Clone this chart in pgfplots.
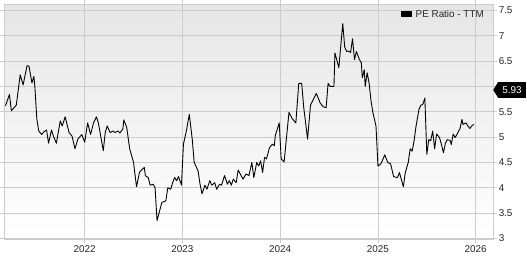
\documentclass[border=0pt]{standalone}
\usepackage{pgfplots}
\pgfplotsset{compat=1.18}
\usepackage{fontspec}
\setmainfont{Liberation Sans}
\definecolor{gridc}{RGB}{204,204,204}
\definecolor{bgtop}{RGB}{230,230,230}
\pgfplotstableread{
x y
2021.19 5.62
2021.23 5.84
2021.25 5.52
2021.30 5.63
2021.34 6.23
2021.37 6.03
2021.41 6.41
2021.43 6.40
2021.46 6.07
2021.48 6.20
2021.49 6.00
2021.51 5.36
2021.53 5.12
2021.56 5.05
2021.58 5.10
2021.61 5.14
2021.63 4.88
2021.66 5.14
2021.68 5.02
2021.71 4.88
2021.75 5.32
2021.77 5.22
2021.80 5.40
2021.84 5.09
2021.87 5.02
2021.90 4.77
2021.93 4.96
2021.97 5.05
2022.00 4.90
2022.03 5.28
2022.06 5.05
2022.09 5.28
2022.12 5.40
2022.14 5.28
2022.17 4.95
2022.19 4.73
2022.21 5.09
2022.23 5.22
2022.26 5.09
2022.29 5.12
2022.31 5.09
2022.34 5.12
2022.36 5.08
2022.39 5.16
2022.40 5.34
2022.43 5.19
2022.46 4.77
2022.50 4.50
2022.51 4.33
2022.53 4.02
2022.56 4.30
2022.58 4.35
2022.61 4.40
2022.62 4.24
2022.65 4.20
2022.67 4.05
2022.70 4.07
2022.72 4.00
2022.74 3.35
2022.77 3.57
2022.79 3.71
2022.83 3.74
2022.85 4.00
2022.88 3.97
2022.90 4.10
2022.92 4.20
2022.94 4.14
2022.96 4.22
2022.99 4.05
2023.01 4.86
2023.04 5.12
2023.07 5.45
2023.10 4.96
2023.12 4.50
2023.16 4.33
2023.18 4.07
2023.20 3.88
2023.23 4.05
2023.25 3.97
2023.28 4.14
2023.30 4.05
2023.33 4.10
2023.35 3.97
2023.38 4.07
2023.40 4.05
2023.43 4.24
2023.46 4.07
2023.48 4.14
2023.50 4.05
2023.52 4.17
2023.55 4.10
2023.57 4.35
2023.60 4.24
2023.62 4.17
2023.65 4.27
2023.68 4.24
2023.71 4.50
2023.73 4.20
2023.76 4.50
2023.78 4.43
2023.80 4.53
2023.82 4.30
2023.84 4.60
2023.86 4.57
2023.89 4.79
2023.92 4.86
2023.94 4.83
2023.95 5.03
2023.99 5.28
2024.01 4.57
2024.04 4.51
2024.09 5.49
2024.12 5.37
2024.16 5.28
2024.19 6.06
2024.22 6.06
2024.24 5.60
2024.28 4.96
2024.31 5.63
2024.37 5.86
2024.41 5.67
2024.44 5.60
2024.47 5.58
2024.49 6.06
2024.51 6.00
2024.55 6.00
2024.56 6.66
2024.60 6.37
2024.64 7.24
2024.66 6.78
2024.68 6.69
2024.70 6.70
2024.72 6.67
2024.74 6.94
2024.76 6.53
2024.78 6.69
2024.81 6.53
2024.83 6.47
2024.84 6.17
2024.86 6.33
2024.87 6.00
2024.89 6.27
2024.91 6.06
2024.93 5.70
2024.95 5.47
2024.98 5.22
2025.00 4.43
2025.03 4.47
2025.07 4.65
2025.10 4.50
2025.13 4.47
2025.16 4.22
2025.20 4.20
2025.22 4.30
2025.26 4.02
2025.28 4.30
2025.31 4.50
2025.33 4.77
2025.35 4.72
2025.37 4.93
2025.39 5.22
2025.42 5.55
2025.44 5.63
2025.46 5.65
2025.48 5.77
2025.50 4.66
2025.52 4.95
2025.54 4.93
2025.56 5.12
2025.58 4.77
2025.60 5.06
2025.63 4.99
2025.65 4.85
2025.67 4.69
2025.69 4.88
2025.71 4.95
2025.74 4.93
2025.75 4.85
2025.77 5.06
2025.79 4.99
2025.81 5.06
2025.84 5.17
2025.86 5.35
2025.87 5.25
2025.90 5.28
2025.92 5.22
2025.94 5.17
2025.96 5.22
2025.98 5.25
}\pedata
\begin{document}
\begin{tikzpicture}
\begin{axis}[
  scale only axis,
  width=493bp, height=237bp,
  xmin=2021.178, xmax=2026.18,
  ymin=2.98, ymax=7.62,
  xtick={2022,2023,2024,2025,2026},
  ytick={3,3.5,4,4.5,5,5.5,6,6.5,7,7.5},
  yticklabel pos=right,
  /pgf/number format/1000 sep={},
  /pgf/number format/assume math mode=true,
  ticklabel style={font=\fontsize{10}{12}\selectfont, text=black!85},
  yticklabel style={anchor=west, xshift=-2bp},
  xticklabel style={yshift=1bp},
  tick align=outside,
  major tick length=4bp,
  tick style={color=gridc, line width=0.8bp},
  grid=major,
  major grid style={color=gridc, line width=0.8bp},
  axis line style={color=gridc, line width=0.8bp},
  axis background/.style={shade, top color=bgtop, bottom color=white},
  clip=false,
  legend style={at={(0.985,0.985)}, anchor=north east, draw=none, fill=none,
    inner sep=0pt, font=\fontsize{10}{12}\selectfont, text=black!85},
  legend cell align=left,
  legend image code/.code={\fill[black] (0bp,-2.5bp) rectangle (10bp,2.5bp);
    \path[draw=none,fill=none] (0bp,0bp) -- (12bp,0bp);},
]
\addplot[black, line width=0.9bp, line join=round, mark=none] table[x=x,y=y] {\pedata};
\addlegendentry{PE Ratio - TTM}
\node[fill=black, text=white, anchor=west, inner xsep=4bp, inner ysep=0pt,
  minimum height=16bp, font=\fontsize{10}{12}\selectfont, xshift=5bp] (tag)
  at (axis cs:2026.18,5.93) {5.93};
\fill[black] (tag.north west) -- (tag.south west) -- ([xshift=-5bp]tag.west) -- cycle;
\end{axis}
\path[use as bounding box] (0,-12bp) rectangle (527bp,238bp);
\end{tikzpicture}
\end{document}
